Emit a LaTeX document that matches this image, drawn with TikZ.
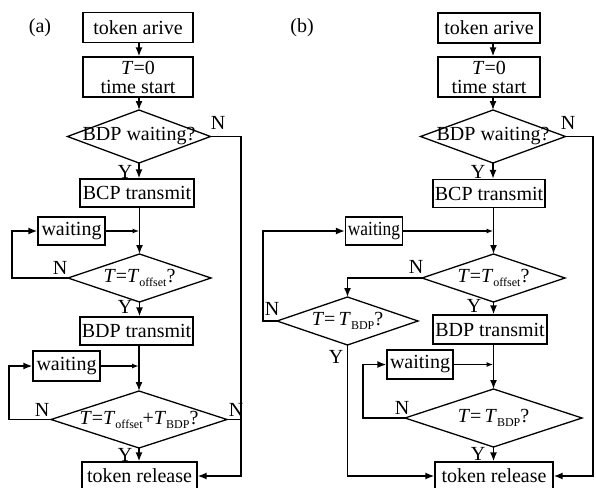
\documentclass[tikz,border=0pt]{standalone}
\usepackage{fontspec}
\setmainfont{Liberation Serif}
\usetikzlibrary{arrows.meta}
\newcommand\lowsub[1]{\raisebox{-0.45ex}{\fontsize{12}{12}\selectfont #1}}
\tikzset{
  box/.style={draw, line width=1.3pt, inner sep=0pt, align=center, font=\fontsize{20}{19}\selectfont},
  diatext/.style={inner sep=0pt, font=\fontsize{20}{20}\selectfont},
  diaedge/.style={line width=1.3pt, line join=miter},
  conn/.style={line width=1.5pt, -{Latex[length=9pt,width=7pt]}},
  joinarr/.style={line width=1.5pt, -{Latex[length=7pt,width=5pt]}},
  plain/.style={line width=1.5pt},
  lbl/.style={font=\fontsize{20}{20}\selectfont, inner sep=0pt}
}
% name, x, y, width, height, text
\newcommand\flowdia[6]{%
  \node[diatext] (#1) at (#2,#3) {#6};
  \coordinate (#1-n) at (#2,{#3-#5/2});
  \coordinate (#1-s) at (#2,{#3+#5/2});
  \coordinate (#1-w) at ({#2-#4/2},#3);
  \coordinate (#1-e) at ({#2+#4/2},#3);
  \draw[diaedge] (#1-n) -- (#1-e) -- (#1-s) -- (#1-w) -- cycle;
}
\begin{document}
\begin{tikzpicture}[x=1pt,y=-1pt]
\useasboundingbox (0,0) rectangle (596,487);
% ---------- (a)
\node[lbl] (la) at (40,28) {(a)};
\node[box, minimum width=110, minimum height=30] (a1) at (138,27.5) {token arive};
\node[box, minimum width=110, minimum height=40] (a2) at (138,77) {\textit{T}=0\\time start};
\flowdia{a3}{139}{136.5}{143}{53}{BDP waiting?}
\node[box, minimum width=114, minimum height=28] (a4) at (137,193) {BCP transmit};
\node[box, minimum width=67, minimum height=28] (a5) at (71.5,231) {waiting};
\flowdia{a6}{139.5}{278}{143}{48}{\textit{T}=\textit{T}\lowsub{offset}?}
\node[box, minimum width=113, minimum height=28] (a7) at (136.5,331) {BDP transmit};
\node[box, minimum width=67, minimum height=30] (a8) at (66.5,366) {waiting};
\flowdia{a9}{139}{419.5}{176}{57}{\textit{T}=\textit{T}\lowsub{offset}+\textit{T}\lowsub{BDP}?}
\node[box, minimum width=115, minimum height=28] (a10) at (139.5,476) {token release};
\coordinate (ar1) at (241,136.5);
\coordinate (ar2) at (241,476);
\coordinate (al1) at (12,278);
\coordinate (al2) at (9,419.5);

\draw[conn] (a1.south -| a3-n) -- (a2.north -| a3-n);
\draw[conn] (a2.south -| a3-n) -- (a3-n);
\draw[conn] (a3-s) -- (a4.north -| a3-s);
\draw[conn] (a4.south -| a6-n) -- (a6-n);
\draw[joinarr] (a5.east) -- (a5.east -| a6-n);
\draw[conn] (a6-w) -- (al1) |- (a5.west);
\draw[conn] (a6-s) -- (a7.north -| a6-s);
\draw[conn] (a7.south -| a9-n) -- (a9-n);
\draw[joinarr] (a8.east) -- (a8.east -| a9-n);
\draw[conn] (a9-w) -- (al2) |- (a8.west);
\draw[conn] (a9-s) -- (a10.north -| a9-s);
\draw[conn] (a3-e) -- (ar1) -- (ar2) -- (a10.east);
\draw[plain] (a9-e) -- (a9-e -| ar1);

\node[lbl] (na1) at (218,123) {N};
\node[lbl] (ya1) at (125,172) {Y};
\node[lbl] (na2) at (60,268) {N};
\node[lbl] (ya2) at (125,307) {Y};
\node[lbl] (na3) at (42,410) {N};
\node[lbl] (na4) at (236,410) {N};
\node[lbl] (ya3) at (125,455) {Y};

% ---------- (b)
\node[lbl] (lb) at (302,28) {(b)};
\node[box, minimum width=102, minimum height=30] (b1) at (489,28) {token arive};
\node[box, minimum width=102, minimum height=40] (b2) at (489,77) {\textit{T}=0\\time start};
\flowdia{b3}{493}{136.5}{145}{53}{BDP waiting?}
\node[box, minimum width=112, minimum height=28] (b4) at (489,193.5) {BCP transmit};
\node[box, minimum width=57, minimum height=28] (b5) at (374,231) {\scalebox{0.87}[1]{waiting}};
\flowdia{b6}{493.5}{278}{143}{48}{\textit{T}=\textit{T}\lowsub{offset}?}
\flowdia{b7}{347.5}{321}{141}{48}{\textit{T}=\,\textit{T}\lowsub{BDP}?}
\node[box, minimum width=114, minimum height=29] (b8) at (490,329.5) {BDP transmit};
\node[box, minimum width=66, minimum height=29] (b9) at (420,364.5) {waiting};
\flowdia{b10}{493.5}{418}{177}{58}{\textit{T}=\,\textit{T}\lowsub{BDP}?}
\node[box, minimum width=118, minimum height=28] (b11) at (494,476) {token release};
\coordinate (br1) at (593,136.5);
\coordinate (br2) at (593,476);
\coordinate (bl1) at (263,321);
\coordinate (bm1) at (347.5,278);
\coordinate (bl2) at (363,418);
\coordinate (bb1) at (347.5,476);

\draw[conn] (b1.south -| b3-n) -- (b2.north -| b3-n);
\draw[conn] (b2.south -| b3-n) -- (b3-n);
\draw[conn] (b3-s) -- (b4.north -| b3-s);
\draw[conn] (b4.south -| b6-n) -- (b6-n);
\draw[joinarr] (b5.east) -- (b5.east -| b6-n);
\draw[conn] (b6-w) -- (bm1) -- (b7-n);
\draw[conn] (b7-w) -- (bl1) |- (b5.west);
\draw[conn] (b6-s) -- (b8.north -| b6-s);
\draw[conn] (b8.south -| b10-n) -- (b10-n);
\draw[joinarr] (b9.east) -- (b9.east -| b10-n);
\draw[conn] (b10-w) -- (bl2) |- (b9.west);
\draw[conn] (b10-s) -- (b11.north -| b10-s);
\draw[conn] (b7-s) -- (bb1) -- (b11.west);
\draw[conn] (b3-e) -- (br1) -- (br2) -- (b11.east);

\node[lbl] (nb1) at (568,123) {N};
\node[lbl] (yb1) at (478,172) {Y};
\node[lbl] (nb2) at (416,267) {N};
\node[lbl] (nb3) at (272,309) {N};
\node[lbl] (yb2) at (474,306) {Y};
\node[lbl] (yb3) at (336,357) {Y};
\node[lbl] (nb4) at (402,408) {N};
\node[lbl] (yb4) at (478,454) {Y};
\end{tikzpicture}
\end{document}
